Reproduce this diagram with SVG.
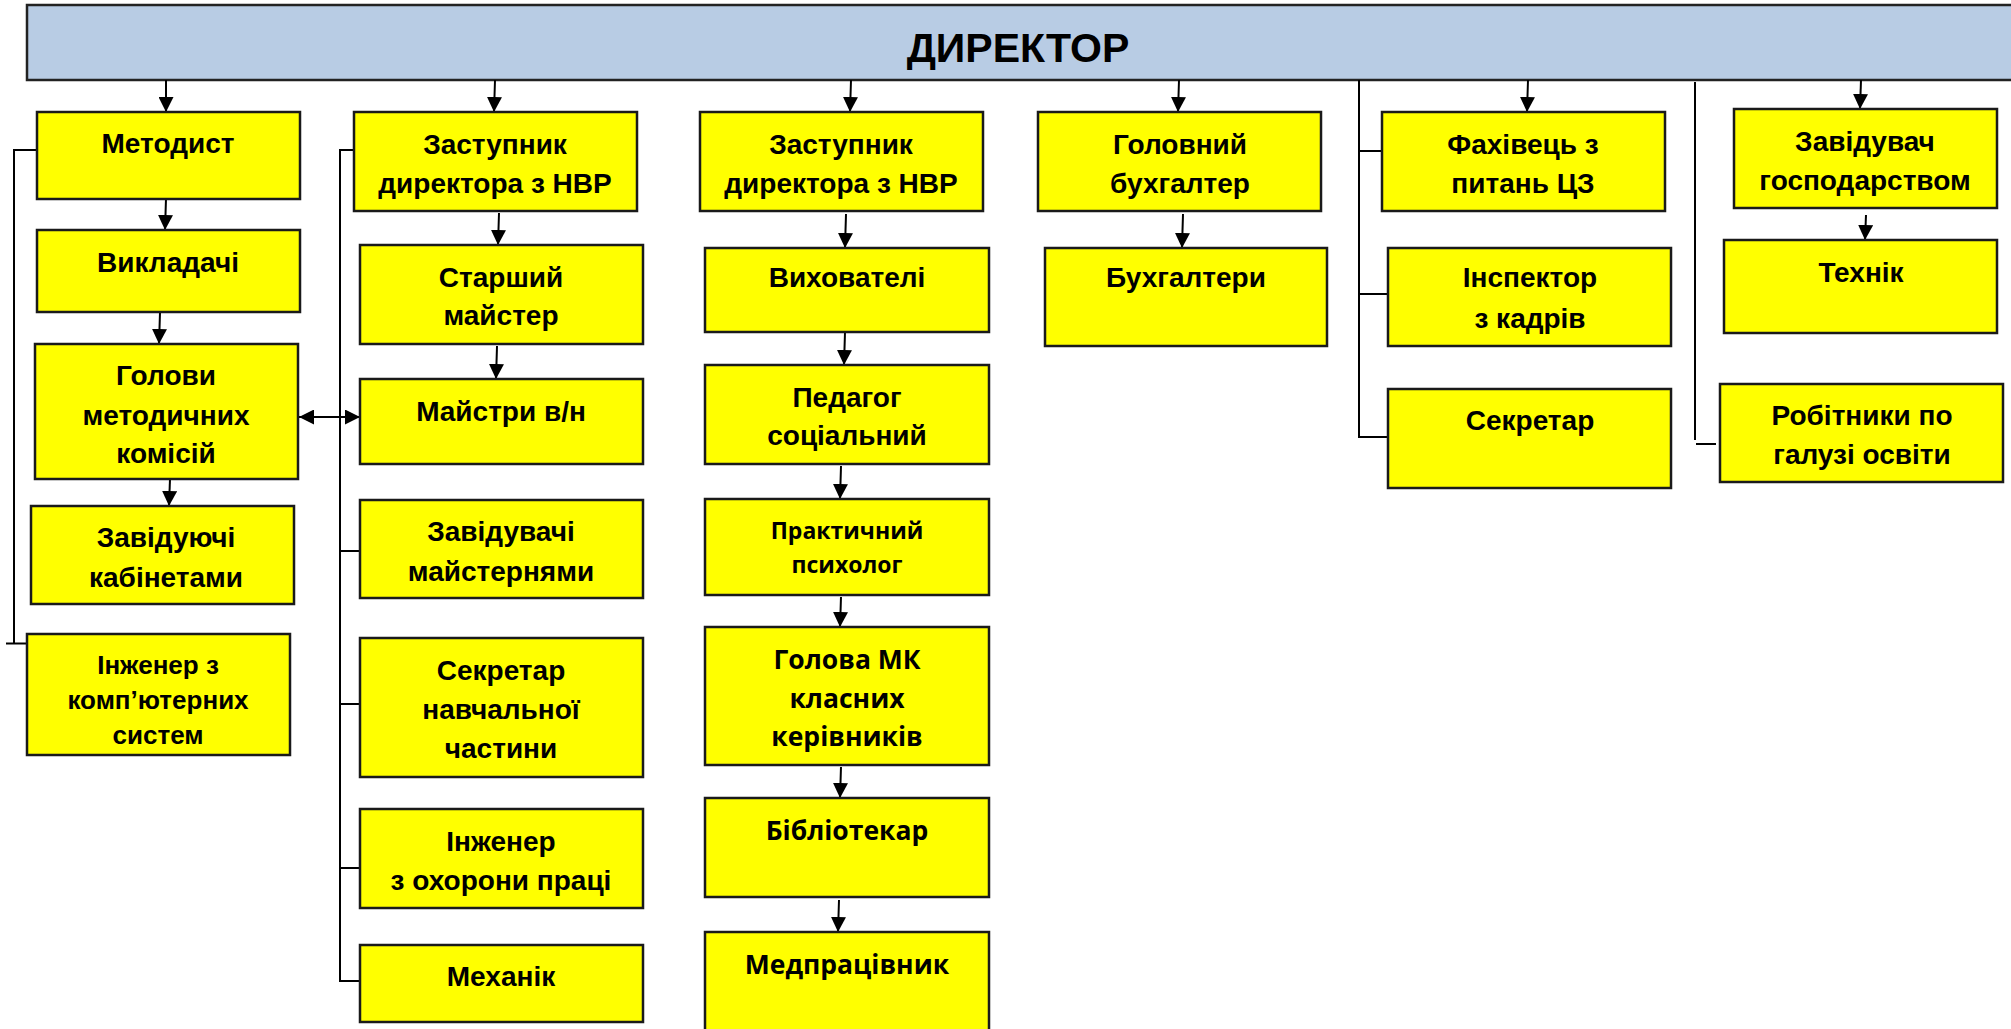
<svg xmlns="http://www.w3.org/2000/svg" width="2011" height="1029" viewBox="0 0 2011 1029">
<style>
.bx{fill:#ffff00;stroke:#1a1a1a;stroke-width:2.5}
.dir{fill:#b8cce4;stroke:#222;stroke-width:2.5}
.t{font-family:"Liberation Sans",Arial,sans-serif;font-weight:bold;font-size:28px;text-anchor:middle;fill:#000}
.s{font-family:"Open Sans","Liberation Sans",sans-serif;font-weight:bold;font-size:26.5px;text-anchor:middle;fill:#000}
.c{fill:none;stroke:#000;stroke-width:2}
.a{fill:none;stroke:#000;stroke-width:2;marker-end:url(#ah)}
</style>
<defs>
<marker id="ah" viewBox="0 0 10 10" refX="10" refY="5" markerUnits="userSpaceOnUse" markerWidth="15" markerHeight="15" orient="auto-start-reverse">
<path d="M0,0 L10,5 L0,10 z" fill="#000"/>
</marker>
</defs>
<rect width="2011" height="1029" fill="#fff"/>
<g id="director">
<rect class="dir" x="27" y="5" width="2010" height="75"/>
<text class="t" x="1018" y="62" style="font-size:41px">ДИРЕКТОР</text>
</g>
<g id="connectors">
<line class="a" x1="166" y1="80" x2="166" y2="112"/>
<line class="a" x1="166" y1="199" x2="165" y2="230"/>
<line class="a" x1="160" y1="313" x2="159" y2="344"/>
<line class="a" x1="170" y1="479" x2="169" y2="506"/>
<polyline class="c" points="37,150 14,150 14,643"/>
<line class="c" x1="6" y1="643.5" x2="27" y2="643.5"/>
<line class="a" x1="299" y1="417" x2="360" y2="417" style="marker-start:url(#ah)"/>
<line class="a" x1="495" y1="80" x2="494" y2="112"/>
<line class="a" x1="499" y1="213" x2="498" y2="245"/>
<line class="a" x1="497" y1="346" x2="496" y2="379"/>
<polyline class="c" points="354,150 340,150 340,981 360,981"/>
<line class="c" x1="340" y1="551" x2="360" y2="551"/>
<line class="c" x1="340" y1="704" x2="360" y2="704"/>
<line class="c" x1="340" y1="868" x2="360" y2="868"/>
<line class="a" x1="851" y1="80" x2="850" y2="112"/>
<line class="a" x1="846" y1="214" x2="845" y2="248"/>
<line class="a" x1="845" y1="332" x2="844" y2="365"/>
<line class="a" x1="841" y1="466" x2="840" y2="499"/>
<line class="a" x1="841" y1="597" x2="840" y2="627"/>
<line class="a" x1="841" y1="767" x2="840" y2="798"/>
<line class="a" x1="839" y1="900" x2="838" y2="932"/>
<line class="a" x1="1179" y1="80" x2="1178" y2="112"/>
<line class="a" x1="1183" y1="214" x2="1182" y2="248"/>
<polyline class="c" points="1359,80 1359,437 1388,437"/>
<line class="c" x1="1359" y1="151" x2="1382" y2="151"/>
<line class="c" x1="1359" y1="294" x2="1388" y2="294"/>
<line class="a" x1="1528" y1="80" x2="1527" y2="112"/>
<line class="c" x1="1695" y1="82" x2="1695" y2="440"/>
<line class="c" x1="1696" y1="444" x2="1716" y2="444"/>
<line class="a" x1="1861" y1="80" x2="1860" y2="109"/>
<line class="a" x1="1866" y1="215" x2="1865" y2="240"/>
</g>
<g id="metodyst"><rect class="bx" x="37" y="112" width="263" height="87"/><text class="t" x="168" y="153">Методист</text></g>
<g id="vykladachi"><rect class="bx" x="37" y="230" width="263" height="82"/><text class="t" x="168" y="272">Викладачі</text></g>
<g id="holovy-mk"><rect class="bx" x="35" y="344" width="263" height="135"/><text class="t" x="166" y="385">Голови</text><text class="t" x="166" y="425">методичних</text><text class="t" x="166" y="463">комісій</text></g>
<g id="zaviduyuchi"><rect class="bx" x="31" y="506" width="263" height="98"/><text class="t" x="166" y="547">Завідуючі</text><text class="t" x="166" y="587">кабінетами</text></g>
<g id="inzhener-ks"><rect class="bx" x="27" y="634" width="263" height="121"/><text class="t" x="158" y="674" style="font-size:26px">Інженер з</text><text class="t" x="158" y="709" style="font-size:26px">комп’ютерних</text><text class="t" x="158" y="744" style="font-size:26px">систем</text></g>
<g id="zastupnyk-1"><rect class="bx" x="354" y="112" width="283" height="99"/><text class="t" x="495" y="154">Заступник</text><text class="t" x="495" y="193">директора з  НВР</text></g>
<g id="starshyi-maister"><rect class="bx" x="360" y="245" width="283" height="99"/><text class="t" x="501" y="287">Старший</text><text class="t" x="501" y="325">майстер</text></g>
<g id="maistry"><rect class="bx" x="360" y="379" width="283" height="85"/><text class="t" x="501" y="421">Майстри в/н</text></g>
<g id="zaviduvachi"><rect class="bx" x="360" y="500" width="283" height="98"/><text class="t" x="501" y="541">Завідувачі</text><text class="t" x="501" y="581">майстернями</text></g>
<g id="sekretar-nch"><rect class="bx" x="360" y="638" width="283" height="139"/><text class="t" x="501" y="680">Секретар</text><text class="t" x="501" y="719">навчальної</text><text class="t" x="501" y="758">частини</text></g>
<g id="inzhener-op"><rect class="bx" x="360" y="809" width="283" height="99"/><text class="t" x="501" y="851">Інженер</text><text class="t" x="501" y="890">з охорони праці</text></g>
<g id="mekhanik"><rect class="bx" x="360" y="945" width="283" height="77"/><text class="t" x="501" y="986">Механік</text></g>
<g id="zastupnyk-2"><rect class="bx" x="700" y="112" width="283" height="99"/><text class="t" x="841" y="154">Заступник</text><text class="t" x="841" y="193">директора з  НВР</text></g>
<g id="vykhovateli"><rect class="bx" x="705" y="248" width="284" height="84"/><text class="t" x="847" y="287">Вихователі</text></g>
<g id="pedahoh"><rect class="bx" x="705" y="365" width="284" height="99"/><text class="t" x="847" y="407">Педагог</text><text class="t" x="847" y="445">соціальний</text></g>
<g id="psykholoh"><rect class="bx" x="705" y="499" width="284" height="96"/><text class="s" x="847" y="539" style="font-size:23px">Практичний</text><text class="s" x="847" y="573" style="font-size:23px">психолог</text></g>
<g id="holova-mk"><rect class="bx" x="705" y="627" width="284" height="138"/><text class="s" x="847" y="669">Голова МК</text><text class="s" x="847" y="708">класних</text><text class="s" x="847" y="746">керівників</text></g>
<g id="bibliotekar"><rect class="bx" x="705" y="798" width="284" height="99"/><text class="s" x="847" y="840">Бібліотекар</text></g>
<g id="medpratsivnyk"><rect class="bx" x="705" y="932" width="284" height="110"/><text class="s" x="847" y="974">Медпрацівник</text></g>
<g id="holovnyi-bukh"><rect class="bx" x="1038" y="112" width="283" height="99"/><text class="t" x="1180" y="154">Головний</text><text class="t" x="1180" y="193">бухгалтер</text></g>
<g id="bukhhaltery"><rect class="bx" x="1045" y="248" width="282" height="98"/><text class="t" x="1186" y="287">Бухгалтери</text></g>
<g id="fakhivets"><rect class="bx" x="1382" y="112" width="283" height="99"/><text class="t" x="1523" y="154">Фахівець з</text><text class="t" x="1523" y="193">питань ЦЗ</text></g>
<g id="inspektor"><rect class="bx" x="1388" y="248" width="283" height="98"/><text class="t" x="1530" y="287">Інспектор</text><text class="t" x="1530" y="328">з кадрів</text></g>
<g id="sekretar"><rect class="bx" x="1388" y="389" width="283" height="99"/><text class="t" x="1530" y="430">Секретар</text></g>
<g id="zavhosp"><rect class="bx" x="1734" y="109" width="263" height="99"/><text class="t" x="1865" y="151">Завідувач</text><text class="t" x="1865" y="190">господарством</text></g>
<g id="tekhnik"><rect class="bx" x="1724" y="240" width="273" height="93"/><text class="t" x="1861" y="282">Технік</text></g>
<g id="robitnyky"><rect class="bx" x="1720" y="384" width="283" height="98"/><text class="t" x="1862" y="425">Робітники по</text><text class="t" x="1862" y="464">галузі освіти</text></g>
</svg>
